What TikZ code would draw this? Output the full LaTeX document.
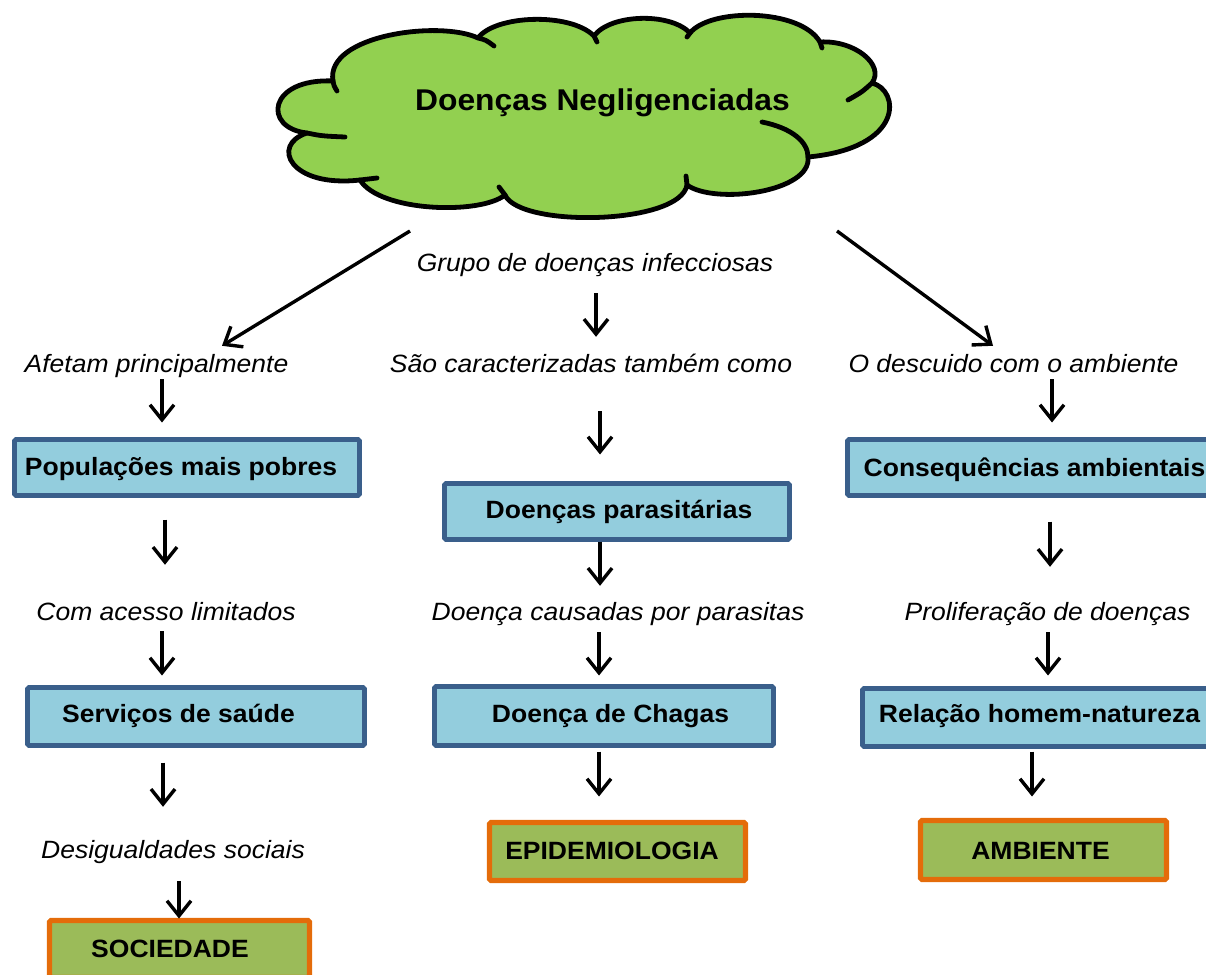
\documentclass[tikz,border=0pt]{standalone}
\usepackage{fontspec}
\setmainfont{Liberation Sans}[FakeStretch=1.06]
\usetikzlibrary{arrows.meta}
\definecolor{cloudgreen}{HTML}{92D050}
\definecolor{boxblue}{HTML}{93CDDD}
\definecolor{boxblueline}{HTML}{3A5F8B}
\definecolor{boxgreen}{HTML}{9BBB59}
\definecolor{boxorange}{HTML}{E46C0A}

\begin{document}
\begin{tikzpicture}[x=1pt,y=-1pt,
  arr/.style={line width=3.4pt, -{Straight Barb[length=15pt,width=24pt]}},
  cloudline/.style={draw=black, line width=4.8pt, line join=round, line cap=round},
  bluebox/.style={draw=boxblueline, fill=boxblue, line width=4.8pt, inner sep=0pt,
    outer sep=0pt, rounded corners=1.5pt},
  greenbox/.style={draw=boxorange, fill=boxgreen, line width=5.2pt, inner sep=0pt,
    outer sep=0pt, rounded corners=1.5pt},
  boxtext/.style={font=\fontsize{25}{30}\selectfont\bfseries, inner sep=0pt, anchor=base},
  lbl/.style={font=\fontsize{25}{30}\selectfont\itshape, inner sep=0pt,
    text height=19pt, text depth=6pt, anchor=base},
  titletext/.style={font=\fontsize{30}{36}\selectfont\bfseries, inner sep=0pt, anchor=base}
]
\useasboundingbox (0,0) rectangle (1206,974);

% ---- cloud ----
\path[cloudline, fill=cloudgreen]
  (307,133) .. controls (262,128) and (268,78) .. (333,81)
  .. controls (325,35) and (440,20) .. (478,38)
  .. controls (495,15) and (570,12) .. (594,36)
  .. controls (610,14) and (670,12) .. (690,33)
  .. controls (710,8) and (800,8) .. (820,42)
  .. controls (855,40) and (885,65) .. (872,83)
  .. controls (900,90) and (905,148) .. (808,157)
  .. controls (812,192) and (715,205) .. (687,185)
  .. controls (680,225) and (520,228) .. (505,195)
  .. controls (480,215) and (380,212) .. (360,180)
  .. controls (290,188) and (270,145) .. (307,133) -- cycle;
% inner arcs of the puffs
\draw[cloudline] (307,133) .. controls (322,136) .. (345,137);
\draw[cloudline] (333,81) .. controls (334,86) .. (337,91);
\draw[cloudline] (478,38) .. controls (486,40) .. (494,46);
\draw[cloudline] (594,36) .. controls (595,39) .. (597,42);
\draw[cloudline] (690,33) -- (687,37);
\draw[cloudline] (820,42) .. controls (821,45) .. (822,48);
\draw[cloudline] (872,83) .. controls (862,92) .. (848,100);
\draw[cloudline] (762,122) .. controls (792,128) and (808,142) .. (808,157);
\draw[cloudline] (687,185) .. controls (687,181) .. (686,176);
\draw[cloudline] (505,195) .. controls (502,191) .. (499,187);
\draw[cloudline] (360,180) .. controls (368,179) .. (377,178);
\node[titletext] (title) at (602.5,110) {Doenças Negligenciadas};
\coordinate (cloudL) at (410,231);
\coordinate (cloudR) at (837,231);

% ---- linking phrases ----
\node[lbl] (g0) at (595,271) {Grupo de doenças infecciosas};
\node[lbl] (t1) at (156.5,372) {Afetam principalmente};
\node[lbl] (t2) at (591,372) {São caracterizadas também como};
\node[lbl] (t3) at (1013.5,372) {O descuido com o ambiente};
\node[lbl] (t4) at (166,620) {Com acesso limitados};
\node[lbl] (t5) at (618,620) {Doença causadas por parasitas};
\node[lbl] (t6) at (1047.5,620) {Proliferação de doenças};
\node[lbl] (t7) at (173,858) {Desigualdades sociais};

% ---- concept boxes ----
\node[bluebox, minimum width=345pt, minimum height=56pt] (b1) at (187,467.5) {};
\node[boxtext] (b1t) at (181,475) {Populações mais pobres};
\node[bluebox, minimum width=345pt, minimum height=56pt] (b2) at (617,511.5) {};
\node[boxtext] (b2t) at (619,518) {Doenças parasitárias};
\node[bluebox, minimum width=362pt, minimum height=56pt] (b3) at (1028.5,467.5) {};
\node[boxtext] (b3t) at (1034.5,476) {Consequências ambientais};
\node[bluebox, minimum width=337pt, minimum height=58pt] (b4) at (196,716.5) {};
\node[boxtext] (b4t) at (178.5,722) {Serviços de saúde};
\node[bluebox, minimum width=339pt, minimum height=59pt] (b5) at (604,716) {};
\node[boxtext] (b5t) at (610.5,722) {Doença de Chagas};
\node[bluebox, minimum width=347pt, minimum height=58pt] (b6) at (1036,717.5) {};
\node[boxtext] (b6t) at (1039.5,722) {Relação homem-natureza};

\node[greenbox, minimum width=256pt, minimum height=58pt] (g1) at (617.5,851.5) {};
\node[boxtext] (g1t) at (612,859) {EPIDEMIOLOGIA};
\node[greenbox, minimum width=246pt, minimum height=59pt] (g2) at (1043.5,850) {};
\node[boxtext] (g2t) at (1040.5,859) {AMBIENTE};
\node[greenbox, minimum width=260pt, minimum height=57pt] (g3) at (179.5,949) {};
\node[boxtext] (g3t) at (170,957) {SOCIEDADE};

% ---- connectors ----
\draw[arr] (cloudL) -- ([shift={(65.5,-7)}]t1.north);
\draw[arr] (cloudR) -- ([shift={(-20.5,-7)}]t3.north);
\draw[arr, shorten <=16pt, shorten >=16pt] ([xshift=1pt]g0.south) -- ([xshift=1pt]g0.south |- t2.north);
\draw[arr, shorten <=1pt, shorten >=17pt] ([xshift=5.5pt]t1.south) -- ([xshift=5.5pt]t1.south |- b1.north);
\draw[arr, shorten <=33pt, shorten >=29pt] ([xshift=9pt]t2.south) -- ([xshift=9pt]t2.south |- b2.north);
\draw[arr, shorten <=1pt, shorten >=17pt] ([xshift=38.5pt]t3.south) -- ([xshift=38.5pt]t3.south |- b3.north);
\draw[arr, shorten <=24pt, shorten >=36pt] ([xshift=-22pt]b1.south) -- ([xshift=-22pt]b1.south |- t4.north);
\draw[arr, shorten <=2pt, shorten >=15pt] ([xshift=-17pt]b2.south) -- ([xshift=-17pt]b2.south |- t5.north);
\draw[arr, shorten <=26pt, shorten >=34pt] ([xshift=21.5pt]b3.south) -- ([xshift=21.5pt]b3.south |- t6.north);
\draw[arr, shorten <=5pt, shorten >=12pt] ([xshift=-4pt]t4.south) -- ([xshift=-4pt]t4.south |- b4.north);
\draw[arr, shorten <=6pt, shorten >=11pt] ([xshift=-19pt]t5.south) -- ([xshift=-19pt]t5.south |- b5.north);
\draw[arr, shorten <=6pt, shorten >=13pt] ([xshift=0.5pt]t6.south) -- ([xshift=0.5pt]t6.south |- b6.north);
\draw[arr, shorten <=17pt, shorten >=32pt] ([xshift=-33pt]b4.south) -- ([xshift=-33pt]b4.south |- t7.north);
\draw[arr, shorten <=6pt, shorten >=26pt] ([xshift=-5pt]b5.south) -- ([xshift=-5pt]b5.south |- g1.north);
\draw[arr, shorten <=5pt, shorten >=24pt] ([xshift=-4pt]b6.south) -- ([xshift=-4pt]b6.south |- g2.north);
\draw[arr, shorten <=17pt, shorten >=2pt] ([xshift=6pt]t7.south) -- ([xshift=6pt]t7.south |- g3.north);
\end{tikzpicture}
\end{document}
